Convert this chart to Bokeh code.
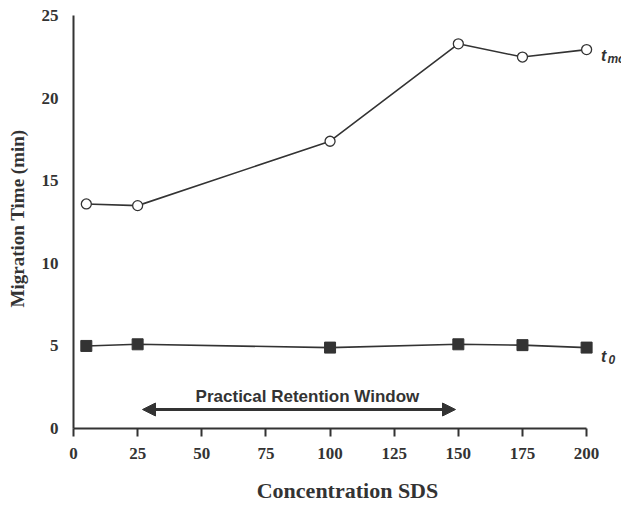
from bokeh.plotting import figure
from bokeh.models import Range1d, FixedTicker, Arrow, NormalHead, ColumnDataSource
from bokeh.core.properties import value
from bokeh.embed import file_html
from bokeh.resources import INLINE

# SDS concentration and migration times (min)
sds = [5, 25, 100, 150, 175, 200]
t_mc = [13.6, 13.5, 17.4, 23.3, 22.5, 22.95]
t_0 = [5.0, 5.1, 4.9, 5.1, 5.05, 4.9]

x_ticks = [0, 25, 50, 75, 100, 125, 150, 175, 200]
y_ticks = [0, 5, 10, 15, 20, 25]

# practical retention window (SDS range)
window_start = 26.9
window_end = 148.9
window_label = "Practical Retention Window"

INK = "#333333"
SERIF = "Liberation Serif"
SANS = "Liberation Sans"

p = figure(width=621, height=505, output_backend="svg", toolbar_location=None,
           x_range=Range1d(0, 213.6), y_range=Range1d(0, 25.44),
           min_border_left=73, min_border_right=0, min_border_top=8,
           min_border_bottom=76)
p.outline_line_color = None
p.xgrid.visible = False
p.ygrid.visible = False
p.background_fill_color = "white"

# axes
p.xaxis.bounds = (0, 200)
p.xaxis.ticker = FixedTicker(ticks=x_ticks)
p.xaxis.minor_tick_line_color = None
p.xaxis.major_tick_out = 8
p.xaxis.major_tick_in = 0
p.xaxis.major_label_standoff = 11
p.xaxis.axis_label = "Concentration SDS"
p.xaxis.axis_label_standoff = 16

p.yaxis.bounds = (0, 25)
p.yaxis.ticker = FixedTicker(ticks=y_ticks)
p.yaxis.minor_tick_line_color = None
p.yaxis.major_tick_out = 0
p.yaxis.major_tick_in = 0
p.yaxis.major_label_standoff = 15
p.yaxis.axis_label = "Migration Time (min)"
p.yaxis.axis_label_standoff = 11

for ax in (p.xaxis, p.yaxis):
    ax.axis_line_color = INK
    ax.axis_line_width = 2
    ax.major_tick_line_color = INK
    ax.major_tick_line_width = 2
    ax.major_label_text_font = SERIF
    ax.major_label_text_font_style = "bold"
    ax.major_label_text_font_size = "17px"
    ax.major_label_text_color = INK
    ax.axis_label_text_font = SERIF
    ax.axis_label_text_font_style = "bold"
    ax.axis_label_text_color = INK

p.yaxis.axis_label_text_font_size = "19px"
p.xaxis.axis_label_text_font_size = "22px"
p.xaxis.axis_label_text_line_height = 0.75

src = ColumnDataSource(dict(sds=sds, t_mc=t_mc, t_0=t_0))

# micelle migration time: open circles
p.line("sds", "t_mc", source=src, line_color=INK, line_width=1.6)
p.scatter("sds", "t_mc", source=src, marker="circle", size=10,
          fill_color="white", line_color=INK, line_width=1.3)

# electroosmotic flow marker: filled squares
p.line("sds", "t_0", source=src, line_color=INK, line_width=1.6)
p.scatter("sds", "t_0", source=src, marker="square", size=11,
          fill_color=INK, line_color=INK)

# series labels with subscripts
p.text(x=[205.6, 205.6], y=[22.6, 4.35], text=["t", "t"],
       text_font=value(SANS), text_font_style="bold italic",
       text_font_size="16px", text_color=INK, text_baseline="alphabetic")
p.text(x=[208.1, 208.5], y=[22.4, 4.2], text=["mc", "0"],
       text_font=value(SANS), text_font_style="bold italic",
       text_font_size="12px", text_color=INK, text_baseline="alphabetic")

# retention window arrow
p.add_layout(Arrow(x_start=window_start, x_end=window_end, y_start=1.15, y_end=1.15,
                   line_color=INK, line_width=3,
                   start=NormalHead(size=13, fill_color=INK, line_color=INK),
                   end=NormalHead(size=13, fill_color=INK, line_color=INK)))
p.text(x=[91.2], y=[1.93], text=[window_label],
       text_font=value(SANS), text_font_style="bold", text_font_size="17px",
       text_color=INK, text_align="center", text_baseline="middle")

open("out.html", "w").write(file_html(p, INLINE))
